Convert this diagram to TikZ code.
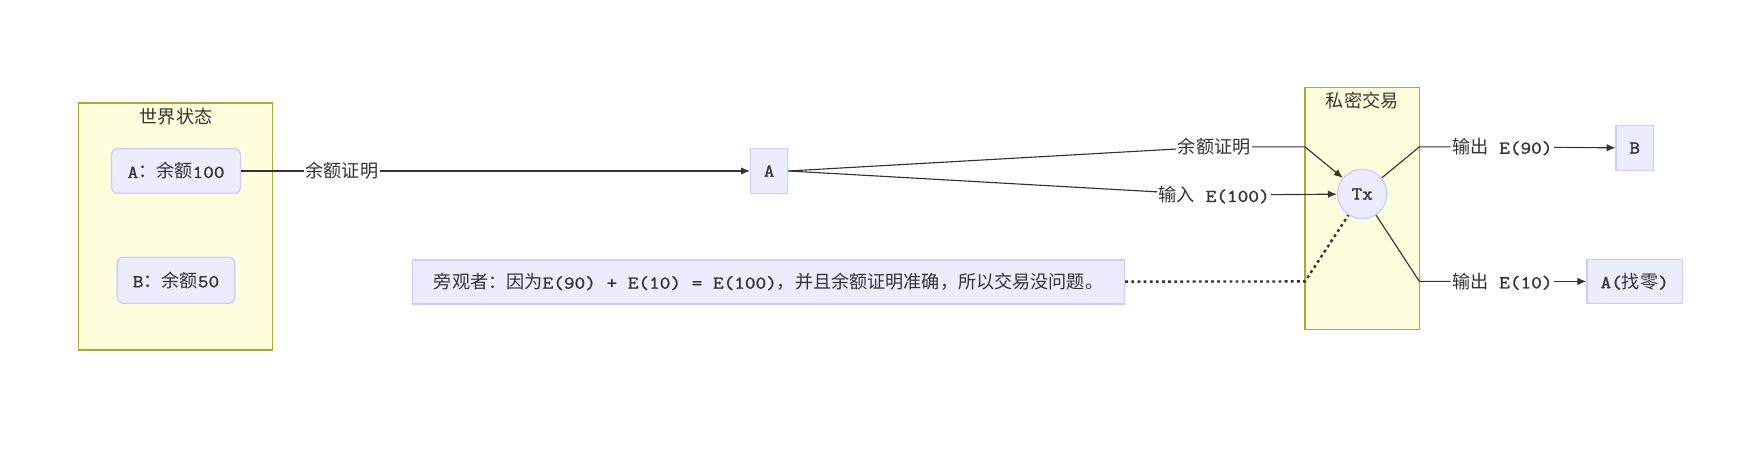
\documentclass[tikz,border=0pt]{standalone}
\usepackage{fontspec}
\setmainfont{Latin Modern Mono}[FakeStretch=1.14,FakeBold=1.3]
\newfontfamily\cjk{Noto Sans CJK SC}
\usetikzlibrary{positioning,arrows.meta}

\definecolor{nodefill}{HTML}{ECECFF}
\definecolor{nodeline}{HTML}{CCCCFF}
\definecolor{boxfill}{HTML}{FFFFDE}
\definecolor{boxline}{HTML}{AAAA33}
\definecolor{inkcol}{HTML}{333333}

\tikzset{
	cluster/.style={draw=boxline,fill=boxfill,line width=1.1pt},
	acct/.style={rectangle,rounded corners=4.5pt,draw=nodeline,fill=nodefill,line width=1pt,minimum height=33.6pt},
	plain/.style={rectangle,draw=nodeline,fill=nodefill,line width=1pt,minimum height=33.6pt},
	tag/.style={inner sep=1pt,fill=white,text=inkcol},
	link/.style={draw=inkcol,line width=0.85pt},
	dotline/.style={draw=inkcol,line width=1.8pt,dash pattern=on 2.1pt off 2.5pt}
}

\begin{document}
\begin{tikzpicture}[x=0.8409pt,y=-0.8409pt,font=\fontsize{13.6}{16}\selectfont,text=inkcol,>={Latex[length=6.7pt,width=5.6pt]}]
			\useasboundingbox (0,0) rectangle (1568,403);

			% the two groups
			\draw[cluster] (70,92) rectangle (243,312);
			\draw[cluster] (1164,78) rectangle (1266,294);
			\node[text=inkcol] (world) at (157,104) {\cjk 世界状态};
			\node[text=inkcol] (secret) at (1215,90) {\cjk 私密交易};

			\begin{scope}[every node/.style={text=inkcol}]
				\node[acct,minimum width=96.7pt] (Abal) at (157,152.5) {A{\cjk ：余额}100};
				\node[acct,minimum width=88.3pt,minimum height=34.5pt] (Bbal) at (157,250) {B{\cjk ：余额}50};
				\node[plain,minimum width=27.8pt] (A) at (686,152.5) {A};
				\node[circle,draw=nodeline,fill=nodefill,line width=1pt,minimum size=37pt,inner sep=0pt] (Tx) at (1215,173) {Tx};
				\node[plain,minimum width=27.8pt] (B) at (1458,132) {B};
				\node[plain,minimum width=71.5pt,minimum height=32.8pt] (Achg) at (1458,251) {A({\cjk 找零})};
				\node[plain,minimum width=534pt,minimum height=32.8pt] (watch) at (685.5,251.5) {{\cjk 旁观者：因为}E(90) + E(10) = E(100){\cjk ，并且余额证明准确，所以交易没问题。}};
			\end{scope}

			\begin{scope}[every node/.style={tag}]
				\node (proof1) at (305,152.5) {\cjk 余额证明};
				\node (proof2) at (1083,131) {\cjk 余额证明};
				\node (input) at (1083,174) {{\cjk 输入} E(100)};
				\node (out90) at (1340,131) {{\cjk 输出} E(90)};
				\node (out10) at (1340,251) {{\cjk 输出} E(10)};
			\end{scope}

			\coordinate (kin) at (1164,131);
			\coordinate (k90) at (1266,131);
			\coordinate (k10) at (1266,251);
			\coordinate (kdot) at (1164,251);

			\path[link] (Abal) -- (proof1);
			\path[link,->] (proof1) -- (A);
			\path[link] (A.east) -- (proof2);
			\path[link,->] (proof2) -- (kin) -- (Tx);
			\path[link] (A.east) -- (input);
			\path[link,->] (input) -- (Tx);
			\path[link] (Tx) -- (k90) -- (out90);
			\path[link,->] (out90) -- (B);
			\path[link] (Tx) -- (k10) -- (out10);
			\path[link,->] (out10) -- (Achg);
			\path[dotline] (watch) -- (kdot) -- (Tx);
		\end{tikzpicture}
\end{document}
